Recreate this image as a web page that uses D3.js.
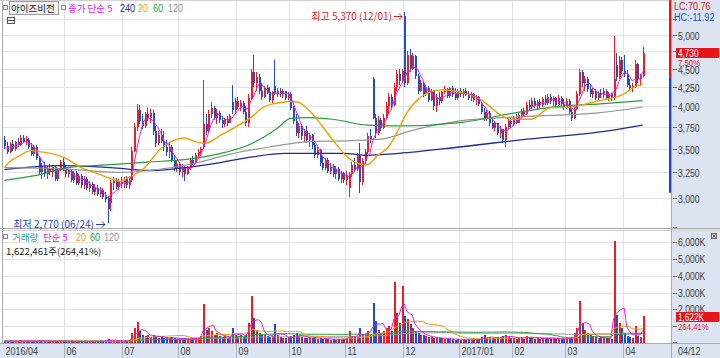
<!DOCTYPE html>
<html><head><meta charset="utf-8">
<script src="https://cdn.jsdelivr.net/npm/d3@7"></script>
<style>
body{margin:0;background:#fff;}
svg{display:block;}
text{font-family:"Liberation Sans",Arial,sans-serif;}
.kr{font-family:"Noto Sans CJK KR","Noto Sans",sans-serif;}
</style></head><body>
<svg id="c" width="720" height="358"></svg>
<script>
// ---------- DATA ----------
const opens=[3600,3530,3470,3550,3500,3570,3540,3620,3580,3600,
3520,3440,3520,3400,3250,3320,3230,3300,3250,3310,
3180,3280,3360,3290,3230,3260,3170,3240,3140,3210,
3120,3180,3100,3130,3060,3100,3040,3080,3010,3000,
2950,3140,3170,3110,3160,3130,3180,3120,3170,3480,
3750,3950,3820,3760,3900,3850,3920,3700,3560,3660,
3590,3520,3460,3520,3380,3300,3340,3250,3300,3230,
3300,3380,3350,3430,3470,3520,3780,3700,3900,3980,
3860,3920,3830,3780,3840,3800,4050,3950,4060,3990,
4040,3930,3800,4100,4450,4300,4380,4200,4120,4230,
4180,4080,4260,4160,4200,4150,4190,4110,4160,3980,
3820,3680,3760,3640,3700,3600,3650,3540,3430,3490,
3350,3300,3380,3270,3320,3230,3290,3180,3240,3170,
3100,3230,3330,3290,3420,3150,3370,3470,3640,4350,
3860,3680,3830,3740,3860,4000,4120,4020,4250,4420,
4330,5300,4300,4700,4500,4680,4400,4200,4300,4160,
4240,4080,4200,4000,4120,4060,4180,4220,4130,4230,
4150,4100,4190,4150,4200,4160,4100,4150,4080,4120,
4030,3930,3850,3920,3790,3740,3790,3680,3720,3600,
3750,3820,3780,3850,3800,3890,3940,3900,4020,3990,
4070,4000,4050,4010,4090,4040,4120,4060,4100,4010,
4110,4030,3980,4070,3930,3860,3970,4150,4450,4300,
4350,4220,4160,4200,4110,4170,4140,4200,4110,4150,
4100,4550,4380,4620,4460,4420,4280,4230,4260,4560,
4350,4400];
const highs=[3640,3580,3570,3600,3590,3620,3650,3660,3640,3620,
3560,3540,3540,3420,3350,3360,3320,3340,3330,3330,
3300,3380,3400,3320,3290,3280,3260,3260,3230,3230,
3210,3200,3160,3150,3130,3120,3110,3100,3060,3020,
3170,3200,3190,3180,3200,3200,3210,3200,3520,3800,
4030,4010,3900,3930,3980,3960,3950,3760,3700,3720,
3700,3600,3560,3540,3420,3380,3360,3340,3320,3320,
3400,3420,3450,3500,3520,4340,3900,3950,4050,4000,
3960,3940,3880,3860,3880,3900,4270,4100,4120,4080,
4060,4000,4150,4500,4700,4450,4420,4300,4260,4280,
4250,4200,4620,4230,4230,4220,4200,4180,4180,4000,
3900,3800,3780,3720,3760,3680,3670,3560,3520,3500,
3420,3400,3400,3350,3340,3320,3310,3260,3250,3260,
3250,3360,3400,3450,3560,3400,3500,3680,3720,4380,
3900,3880,3860,3900,4050,4170,4150,4300,4480,4500,
4500,5370,4760,4780,4720,4700,4420,4340,4320,4280,
4260,4220,4210,4150,4180,4200,4260,4240,4250,4260,
4230,4220,4230,4220,4240,4200,4180,4170,4140,4130,
4050,3980,3950,3940,3850,3820,3800,3760,3730,3780,
3850,3860,3880,3900,3920,3960,3980,4050,4080,4100,
4100,4080,4090,4120,4140,4150,4160,4130,4120,4140,
4130,4090,4100,4090,3960,4000,4200,4500,4480,4400,
4380,4280,4230,4220,4200,4220,4230,4220,4180,4170,
4980,4720,4680,4660,4700,4480,4350,4300,4620,4580,
4420,4820];
const lows=[3500,3440,3450,3480,3480,3520,3530,3560,3540,3500,
3420,3420,3380,3220,3180,3200,3180,3220,3200,3160,
3160,3260,3270,3200,3200,3150,3140,3120,3120,3100,
3090,3080,3060,3040,3030,3020,3010,2990,2960,2770,
2880,3080,3090,3080,3100,3100,3100,3090,3150,3460,
3700,3780,3720,3740,3820,3800,3650,3520,3540,3560,
3480,3420,3400,3360,3260,3250,3220,3200,3160,3220,
3280,3330,3340,3400,3420,3500,3650,3680,3850,3830,
3780,3800,3740,3750,3760,3790,3900,3900,3960,3940,
3900,3760,3750,4080,4250,4200,4150,4080,4100,4150,
4050,4040,4140,4120,4120,4100,4080,4080,3950,3780,
3640,3620,3600,3580,3560,3520,3500,3400,3400,3320,
3280,3280,3240,3230,3200,3180,3160,3140,3140,3120,
3010,3200,3260,3270,3050,3120,3340,3440,3560,3840,
3620,3650,3700,3720,3840,3900,3980,4000,4200,4280,
4300,4250,4280,4450,4480,4350,4150,4180,4120,4130,
4050,4060,3950,3930,4020,4040,4150,4100,4100,4120,
4080,4080,4120,4100,4130,4080,4060,4050,4020,4000,
3900,3820,3820,3760,3720,3700,3650,3620,3560,3520,
3720,3740,3760,3780,3790,3850,3870,3890,3960,3970,
3980,3950,3980,3990,4020,4020,4030,4000,3980,3990,
4000,3950,3960,3900,3820,3840,3950,4130,4250,4200,
4180,4120,4100,4080,4080,4100,4100,4080,4060,4060,
4080,4330,4360,4420,4380,4250,4200,4180,4240,4300,
4260,4380];
const closes=[3530,3470,3550,3500,3570,3540,3620,3580,3610,3520,
3440,3520,3400,3250,3320,3230,3300,3250,3310,3180,
3280,3360,3290,3230,3260,3170,3240,3140,3210,3120,
3180,3100,3130,3060,3100,3040,3080,3010,2990,2900,
3140,3170,3110,3160,3130,3180,3120,3170,3480,3750,
3950,3820,3760,3900,3850,3920,3700,3560,3660,3590,
3520,3460,3520,3380,3300,3340,3250,3300,3230,3300,
3380,3350,3430,3470,3500,3780,3700,3900,3980,3860,
3920,3830,3780,3840,3800,3880,3950,4060,3990,4040,
3930,3800,4100,4450,4300,4380,4200,4120,4230,4180,
4080,4180,4160,4200,4150,4190,4110,4160,3980,3820,
3680,3760,3640,3700,3600,3650,3540,3430,3490,3350,
3300,3380,3270,3320,3230,3290,3180,3240,3170,3220,
3230,3330,3290,3420,3150,3370,3470,3640,3600,3860,
3680,3830,3740,3860,4000,4120,4020,4250,4420,4330,
4460,4300,4700,4500,4680,4400,4200,4300,4160,4240,
4080,4200,4000,4120,4060,4180,4220,4130,4230,4150,
4100,4190,4150,4200,4160,4100,4150,4080,4120,4030,
3930,3850,3920,3790,3740,3790,3680,3720,3600,3750,
3820,3780,3850,3800,3890,3940,3900,4020,3990,4070,
4000,4050,4010,4090,4040,4120,4060,4100,4010,4110,
4030,3980,4070,3930,3860,3970,4150,4450,4300,4350,
4220,4160,4200,4110,4170,4140,4200,4110,4150,4100,
4350,4380,4620,4460,4420,4280,4230,4260,4560,4350,
4400,4730];
// volume in thousands of shares
const volumes=[120,100,140,90,110,130,150,100,120,110,140,100,130,180,120,100,110,90,100,130,90,150,110,
100,80,120,90,100,80,110,90,100,80,120,90,110,100,130,120,250,200,150,100,90,110,
150,120,180,600,900,1250,700,500,400,450,350,500,400,300,350,300,
300,280,350,300,250,220,250,280,220,260,300,250,320,
400,2300,800,900,700,500,600,400,350,400,300,350,
900,500,400,450,350,500,1200,2800,1500,800,
600,500,450,400,350,400,1100,500,350,300,300,280,
400,500,600,400,350,300,300,280,300,350,250,300,250,220,250,200,220,200,250,200,220,
250,700,400,350,400,900,500,450,700,500,
2400,1300,800,600,700,900,1000,700,3600,1800,1200,3400,
1600,1400,1100,900,700,600,500,450,400,350,
350,300,300,280,300,250,250,230,220,200,250,
200,220,200,250,200,180,200,220,350,450,300,350,300,280,350,300,400,500,400,300,
280,250,300,350,250,400,300,350,250,280,250,300,250,300,250,280,230,260,220,250,
250,300,350,600,900,2500,1200,800,600,450,400,350,300,350,300,280,300,250,
6050,1650,1200,900,600,400,350,300,1000,400,350,1622];

// long moving averages: [candle index, price]
const ma20Pts=[[0,3300],[2,3360],[6,3430],[10,3480],[13,3470],[19,3440],[23,3400],[29,3300],[34,3250],[40,3190],[44,3160],[47,3200],[53,3300],[56,3400],[59,3500],[63,3580],[68,3620],[72,3580],[76,3560],[81,3640],[88,3760],[93,3860],[98,3990],[103,4040],[108,4060],[111,4050],[115,3950],[120,3760],[125,3560],[130,3400],[134,3340],[137,3330],[141,3430],[145,3520],[149,3730],[152,3920],[156,4080],[160,4170],[165,4210],[172,4180],[180,4080],[187,3900],[191,3840],[199,3840],[206,3980],[214,3990],[222,4050],[226,4080],[233,4140],[238,4250],[241,4280]];
const ma60Pts=[[0,3170],[12,3220],[24,3300],[40,3330],[55,3360],[67,3380],[80,3440],[92,3540],[103,3730],[108,3850],[115,3860],[124,3840],[137,3770],[149,3760],[172,3800],[195,3930],[210,4000],[225,4030],[241,4070]];
const ma120Pts=[[0,3300],[21,3290],[44,3250],[55,3270],[71,3340],[85,3440],[100,3520],[115,3580],[131,3590],[143,3610],[153,3700],[172,3820],[195,3870],[225,3920],[241,3990]];
const ma240Pts=[[0,3280],[21,3320],[40,3300],[55,3270],[68,3300],[81,3350],[93,3410],[106,3450],[128,3450],[137,3430],[149,3450],[172,3520],[195,3600],[225,3690],[241,3770]];

const monthStarts=[0,23,45,66,88,108,129,151,172,192,212,234];
const monthLabels=["2016/04","06","07","08","09","10","11","12","2017/01","02","03","04"];
const lastDateLabel="04/12";
const priceTicks=[3000,3250,3500,3750,4000,4250,4500,4750,5000,5250];
// labels hidden under the LC/HC block and the price box are left empty
const priceTickLabels=["3,000","3,250","3,500","3,750","4,000","4,250","4,500","","5,000",""];
const volTicks=[1000,2000,3000,4000,5000,6000];
const volTickLabels=["","2,000K","3,000K","4,000K","5,000K","6,000K"];
const rangeBarLevels=[5580,4370,3050];
const highInfo={idx:151,price:5370,text:"최고 5,370 (12/01)"};
const lowInfo={idx:39,price:2770,text:"최저 2,770 (06/24)"};
const lastPrice=4730, lastPriceText="4,730", lastChangeText="7,50%";
const lastVolText="1,622K", lastVolRatioText="264,41%";
const lcText="LC:70.76", hcText="HC:-11.92";
const stockName="아이즈비전";
const volInfoText="1,622,461주(264,41%)";

// ---------- LAYOUT ----------
const C={up:"#ee1c24",down:"#1c4fd0",ma5:"#dd22dd",ma20:"#f0a000",ma60:"#23a03a",ma120:"#959595",ma240:"#1b2a96",grid:"#e2e2e2",panel:"#dbe4f0"};
const svg=d3.select("#c");
const n=closes.length;
const x=d3.scaleBand().domain(d3.range(n)).range([3,644]);
const cx=i=>x(i)+x.bandwidth()/2;
const y=d3.scaleLog().domain([3000,5000]).range([198,35]);
const yv=d3.scaleLinear().domain([0,6000]).range([343,242]);
const PT=0, PB=228, VT=230, VB=343, PR=671;
const SX=0.82; // horizontal condensing of Latin labels (narrow bitmap look)

function T(parent,x0,y0,str,o={}){
  const size=o.size||11;
  if(o.kr){
    return parent.append("text").attr("class","kr").attr("x",x0).attr("y",y0).attr("font-size",size)
      .attr("fill",o.fill||"#404040").attr("text-anchor",o.anchor||"start").text(str);
  }
  const gg=parent.append("g").attr("transform",`translate(${x0},${y0}) scale(${SX},1)`);
  return gg.append("text").attr("x",0).attr("y",0).attr("font-size",size).attr("fill",o.fill||"#404040")
    .attr("text-anchor",o.anchor||"start").text(str);
}

// panels
svg.append("rect").attr("x",0).attr("y",0).attr("width",720).attr("height",358).attr("fill","#fff");
svg.append("rect").attr("x",PR+1).attr("y",0).attr("width",720-PR-1).attr("height",358).attr("fill",C.panel);
svg.append("rect").attr("x",0).attr("y",344).attr("width",720).attr("height",14).attr("fill",C.panel);

const defs=svg.append("defs");
defs.append("clipPath").attr("id","cp").append("rect").attr("x",3).attr("y",PT).attr("width",PR-3).attr("height",PB-PT);
defs.append("clipPath").attr("id","cv").append("rect").attr("x",3).attr("y",VT).attr("width",PR-3).attr("height",VB-VT);

// grids
const g=svg.append("g").attr("shape-rendering","crispEdges");
priceTicks.forEach(t=>g.append("line").attr("x1",3).attr("x2",PR).attr("y1",Math.round(y(t))+.5).attr("y2",Math.round(y(t))+.5).attr("stroke",C.grid));
volTicks.forEach(t=>g.append("line").attr("x1",3).attr("x2",PR).attr("y1",Math.round(yv(t))+.5).attr("y2",Math.round(yv(t))+.5).attr("stroke",C.grid));
monthStarts.slice(1).forEach(m=>{const xx=Math.round(x(m))+.5;
  g.append("line").attr("x1",xx).attr("x2",xx).attr("y1",0).attr("y2",PB).attr("stroke",C.grid);
  g.append("line").attr("x1",xx).attr("x2",xx).attr("y1",VT).attr("y2",VB).attr("stroke",C.grid);});

// frame lines
const f=svg.append("g").attr("shape-rendering","crispEdges").attr("stroke","#a9a9a9");
f.append("line").attr("x1",2.5).attr("x2",2.5).attr("y1",0).attr("y2",344);
f.append("line").attr("x1",0).attr("x2",720).attr("y1",228.5).attr("y2",228.5);
f.append("line").attr("x1",0).attr("x2",720).attr("y1",230.5).attr("y2",230.5).attr("stroke","#cfcfcf");
f.append("line").attr("x1",0).attr("x2",720).attr("y1",343.5).attr("y2",343.5);
f.append("line").attr("x1",PR+.5).attr("x2",PR+.5).attr("y1",0).attr("y2",358);
f.append("line").attr("x1",0).attr("x2",PR).attr("y1",0.5).attr("y2",0.5).attr("stroke","#d0d0d0");

// candles
const cg=svg.append("g").attr("clip-path","url(#cp)").attr("shape-rendering","crispEdges");
d3.range(n).forEach(i=>{
  const up=closes[i]>=opens[i], col=up?C.up:C.down, xc=Math.round(cx(i));
  cg.append("line").attr("x1",xc+.5).attr("x2",xc+.5).attr("y1",y(highs[i])).attr("y2",y(lows[i])).attr("stroke",col);
  const t=y(Math.max(opens[i],closes[i])), b=y(Math.min(opens[i],closes[i]));
  cg.append("rect").attr("x",xc-0.5).attr("y",t).attr("width",2).attr("height",Math.max(1,b-t)).attr("fill",col);
});

// moving averages
const ma=(arr,k)=>arr.map((_,i)=>d3.mean(arr.slice(Math.max(0,i-k+1),i+1)));
const ma5=ma(closes,5);
const lineIdx=d3.line().x((d,i)=>cx(i)).y(d=>y(d));
const linePts=d3.line().curve(d3.curveMonotoneX).x(d=>cx(d[0])).y(d=>y(d[1]));
const mg=svg.append("g").attr("clip-path","url(#cp)").attr("fill","none");
mg.append("path").attr("d",linePts(ma240Pts)).attr("stroke",C.ma240).attr("stroke-width",1.3);
mg.append("path").attr("d",linePts(ma120Pts)).attr("stroke",C.ma120).attr("stroke-width",1.2);
mg.append("path").attr("d",linePts(ma60Pts)).attr("stroke",C.ma60).attr("stroke-width",1.2);
mg.append("path").attr("d",linePts(ma20Pts)).attr("stroke",C.ma20).attr("stroke-width",1.4);
mg.append("path").attr("d",lineIdx(ma5)).attr("stroke",C.ma5).attr("stroke-width",1);

// volume bars
const vg=svg.append("g").attr("clip-path","url(#cv)").attr("shape-rendering","crispEdges");
d3.range(n).forEach(i=>{
  const up=closes[i]>=opens[i], xc=Math.round(cx(i));
  vg.append("rect").attr("x",xc-0.5).attr("y",yv(volumes[i])).attr("width",2).attr("height",Math.max(1,yv(0)-yv(volumes[i]))).attr("fill",up?C.up:C.down);
});
const lineV=d3.line().x((d,i)=>cx(i)).y(d=>yv(d));
const vm=svg.append("g").attr("clip-path","url(#cv)").attr("fill","none");
vm.append("path").attr("d",lineV(ma(volumes,120))).attr("stroke",C.ma120).attr("stroke-width",1);
vm.append("path").attr("d",lineV(ma(volumes,60))).attr("stroke",C.ma60).attr("stroke-width",1);
vm.append("path").attr("d",lineV(ma(volumes,20))).attr("stroke",C.ma20).attr("stroke-width",1);
vm.append("path").attr("d",lineV(ma(volumes,5))).attr("stroke",C.ma5).attr("stroke-width",1);

// right range bar
svg.append("rect").attr("x",669).attr("y",y(rangeBarLevels[0])).attr("width",2).attr("height",y(rangeBarLevels[1])-y(rangeBarLevels[0])).attr("fill","#e8141c");
svg.append("rect").attr("x",669).attr("y",y(rangeBarLevels[1])).attr("width",2).attr("height",y(rangeBarLevels[2])-y(rangeBarLevels[1])).attr("fill","#1c3fc8");

// right axis
const ax=svg.append("g");
priceTicks.forEach((t,k)=>{const yy=Math.round(y(t))+.5;
  ax.append("line").attr("x1",673).attr("x2",677).attr("y1",yy).attr("y2",yy).attr("stroke","#707070");
  if(priceTickLabels[k]) T(ax,678,yy+4.5,priceTickLabels[k],{size:10.5});});
volTicks.forEach((t,k)=>{const yy=Math.round(yv(t))+.5;
  ax.append("line").attr("x1",673).attr("x2",677).attr("y1",yy).attr("y2",yy).attr("stroke","#707070");
  if(volTickLabels[k]) T(ax,678,yy+3,volTickLabels[k],{size:10.5});});
[PB-1,VB-1].forEach(yy=>ax.append("line").attr("x1",673).attr("x2",677).attr("y1",yy+.5).attr("y2",yy+.5).attr("stroke","#707070"));

// LC/HC
T(svg,674,10,lcText,{fill:"#d62020"});
T(svg,674,21,hcText,{fill:"#1d4fc0"});

// last price box
const ly=Math.round(y(lastPrice));
svg.append("rect").attr("x",676).attr("y",ly-5).attr("width",43).attr("height",10).attr("fill","#e8141c");
T(svg,678,ly+3.5,lastPriceText,{fill:"#fff",size:10});
T(svg,678,ly+12.5,lastChangeText,{fill:"#e8141c",size:9.5});
const lvy=Math.round(yv(volumes[n-1]));
svg.append("rect").attr("x",676).attr("y",lvy-4).attr("width",43).attr("height",10).attr("fill","#e8141c");
T(svg,678,lvy+4.5,lastVolText,{fill:"#fff",size:10});
T(svg,678,lvy+13.5,lastVolRatioText,{fill:"#e8141c",size:9.5});

// bottom axis
const bx=svg.append("g");
monthStarts.forEach((m,k)=>{const xx=Math.round(x(m))+.5;
  if(k>0) bx.append("line").attr("x1",xx).attr("x2",xx).attr("y1",344).attr("y2",358).attr("stroke","#a8b2c0").attr("shape-rendering","crispEdges");
  T(bx,xx+2,355,monthLabels[k]);});
T(bx,678,355,lastDateLabel);

// annotations
const hx=Math.round(cx(highInfo.idx)), hy=Math.round(y(highInfo.price))+4;
T(svg,hx-12,hy+4,highInfo.text,{kr:true,size:10,fill:"#e01c24",anchor:"end"});
svg.append("path").attr("d",`M${hx-10},${hy+.5}H${hx-2}M${hx-5},${hy-2.5}L${hx-2},${hy+.5}L${hx-5},${hy+3.5}`).attr("stroke","#e01c24").attr("fill","none");
const lx=Math.round(cx(lowInfo.idx)), lyy=Math.round(y(lowInfo.price))+1;
T(svg,lx-14,lyy+4,lowInfo.text,{kr:true,size:10,fill:"#1d3fc8",anchor:"end"});
svg.append("path").attr("d",`M${lx-12},${lyy+.5}H${lx-3}M${lx-6},${lyy-2.5}L${lx-3},${lyy+.5}L${lx-6},${lyy+3.5}`).attr("stroke","#1d3fc8").attr("fill","none");

// legends
function icon(x0,y0){svg.append("rect").attr("x",x0+.5).attr("y",y0+.5).attr("width",4).attr("height",4).attr("fill","#f4f4f4").attr("stroke","#888").attr("shape-rendering","crispEdges");}
icon(3,5);
svg.append("rect").attr("x",9.5).attr("y",1.5).attr("width",49).attr("height",13).attr("fill","#f3f3f3").attr("stroke","#9a9a9a").attr("shape-rendering","crispEdges");
T(svg,11,12,stockName,{kr:true,size:9.5,fill:"#222"});
icon(61,5);
T(svg,68,12,"종가 단순 5",{kr:true,size:9.5,fill:C.ma5});
T(svg,120,12,"240",{fill:C.ma240});
T(svg,138,12,"20",{fill:C.ma20});
T(svg,153,12,"60",{fill:C.ma60});
T(svg,168,12,"120",{fill:C.ma120});
svg.append("rect").attr("x",7.5).attr("y",17.5).attr("width",7).attr("height",6).attr("fill","#f0f0f0").attr("stroke","#555").attr("shape-rendering","crispEdges");
svg.append("line").attr("x1",8).attr("x2",14).attr("y1",20.5).attr("y2",20.5).attr("stroke","#555");

icon(3,234);
T(svg,12,241,"거래량",{kr:true,size:9.5,fill:"#2a9a9a"});
T(svg,43,241,"단순 5",{kr:true,size:9.5,fill:C.ma5});
T(svg,76,241,"20",{fill:C.ma20});
T(svg,90,241,"60",{fill:C.ma60});
T(svg,104,241,"120",{fill:C.ma120});
T(svg,6,254.5,volInfoText,{kr:true,size:9.5,fill:"#222"});

// close icon on volume pane
svg.append("rect").attr("x",711.5).attr("y",233.5).attr("width",5).attr("height",5).attr("fill","#eee").attr("stroke","#666").attr("shape-rendering","crispEdges");
svg.append("path").attr("d","M712.5,234.5L715.5,237.5M715.5,234.5L712.5,237.5").attr("stroke","#444");
</script>
</body></html>
